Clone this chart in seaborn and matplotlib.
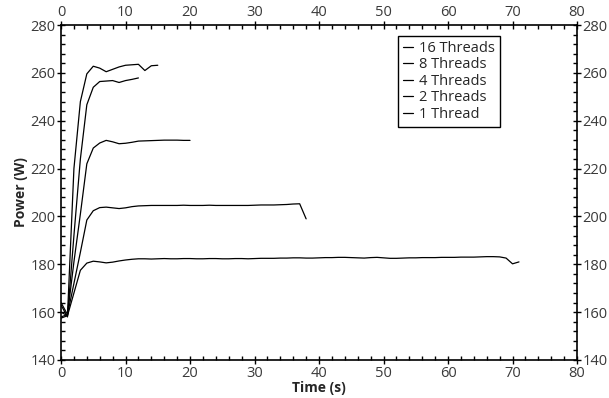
import matplotlib
matplotlib.use('Agg')
import matplotlib.pyplot as plt
from matplotlib.ticker import MultipleLocator
import seaborn as sns
import pandas as pd

# power samples, one per second
threads_16 = [160, 158.5, 220, 248, 259.6, 262.8, 262, 260.5, 261.5, 262.5, 263.2, 263.4,
              263.6, 261, 263, 263.2]
threads_8 = [163, 158, 192, 224, 246.7, 254, 256.4, 256.6, 256.8, 256, 256.8, 257.3, 257.9]
threads_4 = [164, 159, 181, 201, 222, 228.6, 230.7, 231.8, 231.2, 230.4, 230.6, 231, 231.5,
             231.6, 231.7, 231.8, 231.9, 231.9, 231.9, 231.8, 231.8]
threads_2 = [158, 159, 172, 185, 198.5, 202.4, 203.7, 203.9, 203.6, 203.3, 203.6, 204.1, 204.4,
             204.5, 204.6, 204.6, 204.6, 204.6, 204.6, 204.7, 204.6, 204.6, 204.6, 204.7, 204.6,
             204.6, 204.6, 204.6, 204.6, 204.6, 204.7, 204.8, 204.8, 204.8, 204.9, 205.0, 205.2,
             205.3, 199]
threads_1 = [157.5, 158.5, 168, 177.5, 180.5, 181.3, 181, 180.6, 180.9, 181.4, 181.8, 182.1, 182.3,
             182.3, 182.2, 182.3, 182.4, 182.3, 182.3, 182.4, 182.4,
             182.3, 182.3, 182.4, 182.4, 182.3, 182.3, 182.4, 182.4, 182.3, 182.4,
             182.5, 182.5, 182.5, 182.6, 182.6, 182.7, 182.7, 182.6, 182.6, 182.7,
             182.8, 182.8, 182.9, 182.9, 182.8, 182.7, 182.6, 182.8, 182.9, 182.7,
             182.5, 182.5, 182.6, 182.7, 182.7, 182.8, 182.8, 182.8, 182.9, 182.9,
             182.9, 183, 183, 183, 183.1, 183.2, 183.2, 183.1, 182.6, 180.2, 181]

series = {
    '16 Threads': threads_16,
    '8 Threads': threads_8,
    '4 Threads': threads_4,
    '2 Threads': threads_2,
    '1 Thread': threads_1,
}

rows = []
for name, vals in series.items():
    for t, p in enumerate(vals):
        rows.append({'time': t, 'power': p, 'run': name})
df = pd.DataFrame(rows)

sns.set_style('ticks')
plt.rcParams['font.family'] = ['Open Sans', 'DejaVu Sans']

fig = plt.figure(figsize=(6.09, 3.98), dpi=100)
ax = fig.add_axes([0.1002, 0.0955, 0.8473, 0.8415])

order = list(series.keys())
sns.lineplot(data=df, x='time', y='power', hue='run', hue_order=order,
             palette=['black'] * len(order), linewidth=0.9, ax=ax)

ax.set_xlim(0, 80)
ax.set_ylim(140, 280)
ax.xaxis.set_major_locator(MultipleLocator(10))
ax.xaxis.set_minor_locator(MultipleLocator(2))
ax.yaxis.set_major_locator(MultipleLocator(20))
ax.yaxis.set_minor_locator(MultipleLocator(4))

ax.tick_params(which='both', top=True, right=True, labeltop=True, labelright=True,
               labelsize=10.5, labelcolor='#3a3a3a', color='black', width=1, pad=1)
ax.tick_params(which='major', direction='inout', length=6)
ax.tick_params(which='minor', direction='in', length=3)
for s in ax.spines.values():
    s.set_color('black')
    s.set_linewidth(1.2)

ax.set_xlabel('Time (s)', fontsize=10, fontweight='bold', labelpad=0)
ax.set_ylabel('Power (W)', fontsize=10, fontweight='bold', labelpad=2)

leg = ax.legend(loc='upper left', bbox_to_anchor=(0.638, 0.99), frameon=True,
                fancybox=False, framealpha=1, edgecolor='black', fontsize=10.5,
                handlelength=0.7, handletextpad=0.4, borderpad=0.35, labelspacing=0.1)
leg.get_frame().set_linewidth(1.0)

fig.savefig('out.png', dpi=100)
